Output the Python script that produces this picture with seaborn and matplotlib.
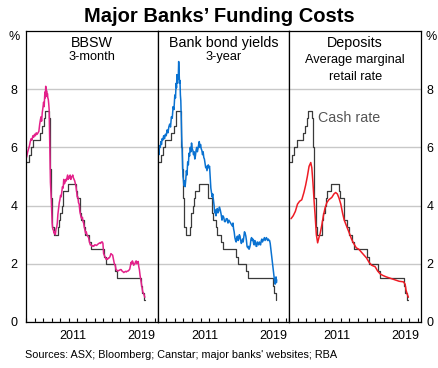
import numpy as np
import pandas as pd
import seaborn as sns
import matplotlib.pyplot as plt

# cash rate (step line, shown in every panel)
cash_t = [2006.0, 2006.35, 2006.6, 2006.85, 2007.6, 2007.85, 2008.1, 2008.17, 2008.7, 2008.77,
          2008.84, 2008.92, 2009.09, 2009.26, 2009.76, 2009.84, 2009.92, 2010.17, 2010.26, 2010.34,
          2010.84, 2011.84, 2011.92, 2012.34, 2012.43, 2012.76, 2012.92, 2013.34, 2013.59, 2015.09,
          2015.34, 2016.34, 2016.59, 2019.42, 2019.51, 2019.76, 2019.85]
cash_rate = [5.5, 5.75, 6.0, 6.25, 6.5, 6.75, 7.0, 7.25, 7.0, 6.0,
             5.25, 4.25, 3.25, 3.0, 3.25, 3.5, 3.75, 4.0, 4.25, 4.5,
             4.75, 4.5, 4.25, 3.75, 3.5, 3.25, 3.0, 2.75, 2.5, 2.25,
             2.0, 1.75, 1.5, 1.25, 1.0, 0.75, 0.75]

# BBSW 3-month
bbsw_t = [2006.0, 2006.1, 2006.2, 2006.3, 2006.4, 2006.5, 2006.6, 2006.7, 2006.8, 2006.9,
          2007.0, 2007.1, 2007.2, 2007.3, 2007.4, 2007.5, 2007.6, 2007.68, 2007.75, 2007.82,
          2007.9, 2007.97, 2008.05, 2008.12, 2008.2, 2008.25, 2008.3, 2008.35, 2008.4, 2008.45,
          2008.5, 2008.55, 2008.6, 2008.65, 2008.7, 2008.78, 2008.85, 2008.95, 2009.05, 2009.12,
          2009.2, 2009.28, 2009.35, 2009.42, 2009.5, 2009.58, 2009.65, 2009.72, 2009.8, 2009.88,
          2009.95, 2010.03, 2010.1, 2010.18, 2010.25, 2010.33, 2010.4, 2010.48, 2010.55, 2010.63,
          2010.7, 2010.78, 2010.85, 2010.93, 2011.0, 2011.08, 2011.15, 2011.23, 2011.3, 2011.38,
          2011.45, 2011.53, 2011.6, 2011.68, 2011.75, 2011.83, 2011.9, 2011.97, 2012.05, 2012.12,
          2012.2, 2012.28, 2012.35, 2012.42, 2012.5, 2012.58, 2012.65, 2012.72, 2012.8, 2012.88,
          2012.95, 2013.03, 2013.1, 2013.2, 2013.3, 2013.4, 2013.5, 2013.6, 2013.7, 2013.8,
          2013.9, 2014.0, 2014.1, 2014.2, 2014.3, 2014.4, 2014.5, 2014.6, 2014.7, 2014.8,
          2014.9, 2014.97, 2015.05, 2015.12, 2015.2, 2015.28, 2015.35, 2015.42, 2015.5, 2015.6,
          2015.7, 2015.8, 2015.9, 2016.0, 2016.1, 2016.2, 2016.3, 2016.4, 2016.5, 2016.6,
          2016.7, 2016.8, 2016.9, 2017.0, 2017.1, 2017.2, 2017.3, 2017.4, 2017.5, 2017.6,
          2017.7, 2017.8, 2017.9, 2018.0, 2018.1, 2018.18, 2018.25, 2018.32, 2018.4, 2018.48,
          2018.55, 2018.62, 2018.7, 2018.78, 2018.85, 2018.92, 2019.0, 2019.08, 2019.15, 2019.22,
          2019.3, 2019.38, 2019.45, 2019.52, 2019.6, 2019.68, 2019.75, 2019.8, 2019.85]
bbsw = [5.6, 5.7, 5.85, 5.95, 6.05, 6.2, 6.3, 6.25, 6.4, 6.35,
        6.45, 6.4, 6.5, 6.45, 6.5, 6.55, 6.8, 6.95, 7.05, 6.9,
        7.2, 7.35, 7.55, 7.4, 7.9, 7.7, 8.1, 7.8, 7.95, 7.75,
        7.85, 7.7, 7.65, 7.5, 7.3, 6.0, 4.8, 4.2, 3.4, 3.2,
        3.15, 3.05, 3.1, 3.0, 3.2, 3.25, 3.4, 3.7, 3.9, 4.1,
        4.2, 4.35, 4.3, 4.5, 4.65, 4.6, 4.9, 4.75, 4.8, 4.9,
        4.85, 4.95, 5.05, 4.9, 5.0, 4.95, 5.05, 4.9, 4.98, 5.0,
        5.05, 4.95, 4.9, 4.85, 4.75, 4.65, 4.5, 4.3, 4.3, 4.1,
        4.05, 3.8, 3.7, 3.6, 3.55, 3.6, 3.45, 3.4, 3.25, 3.15,
        3.05, 3.1, 3.0, 2.95, 2.9, 2.75, 2.65, 2.65, 2.6, 2.62,
        2.6, 2.65, 2.65, 2.63, 2.65, 2.68, 2.7, 2.72, 2.7, 2.75,
        2.75, 2.7, 2.35, 2.3, 2.25, 2.2, 2.15, 2.18, 2.15, 2.2,
        2.2, 2.25, 2.35, 2.32, 2.3, 2.15, 2.0, 1.95, 1.8, 1.78,
        1.75, 1.77, 1.78, 1.8, 1.8, 1.75, 1.73, 1.7, 1.72, 1.74,
        1.72, 1.75, 1.75, 1.78, 1.82, 1.95, 2.05, 2.0, 2.1, 2.05,
        1.95, 1.98, 2.0, 2.08, 2.1, 2.0, 2.05, 2.08, 1.9, 1.8,
        1.6, 1.45, 1.3, 1.2, 1.05, 1.0, 0.95, 0.9, 0.85]

# bank bond yields 3-year
bond_t = [2006.0, 2006.08, 2006.15, 2006.22, 2006.3, 2006.38, 2006.45, 2006.52, 2006.6, 2006.7,
          2006.8, 2006.9, 2007.0, 2007.1, 2007.2, 2007.3, 2007.4, 2007.5, 2007.6, 2007.7,
          2007.8, 2007.9, 2008.0, 2008.08, 2008.15, 2008.2, 2008.25, 2008.3, 2008.35, 2008.4,
          2008.45, 2008.5, 2008.55, 2008.6, 2008.65, 2008.7, 2008.75, 2008.8, 2008.85, 2008.9,
          2008.95, 2009.0, 2009.05, 2009.12, 2009.2, 2009.28, 2009.35, 2009.42, 2009.5, 2009.58,
          2009.65, 2009.72, 2009.8, 2009.88, 2009.95, 2010.03, 2010.1, 2010.18, 2010.25, 2010.33,
          2010.4, 2010.48, 2010.55, 2010.63, 2010.7, 2010.78, 2010.85, 2010.93, 2011.0, 2011.08,
          2011.15, 2011.23, 2011.3, 2011.38, 2011.45, 2011.53, 2011.6, 2011.68, 2011.75, 2011.83,
          2011.9, 2011.97, 2012.05, 2012.12, 2012.2, 2012.28, 2012.35, 2012.42, 2012.5, 2012.58,
          2012.65, 2012.72, 2012.8, 2012.88, 2012.95, 2013.03, 2013.1, 2013.2, 2013.3, 2013.4,
          2013.5, 2013.6, 2013.7, 2013.8, 2013.9, 2014.0, 2014.1, 2014.2, 2014.3, 2014.4,
          2014.5, 2014.6, 2014.7, 2014.78, 2014.85, 2014.92, 2015.0, 2015.08, 2015.15, 2015.22,
          2015.3, 2015.38, 2015.45, 2015.52, 2015.6, 2015.68, 2015.75, 2015.82, 2015.9, 2015.97,
          2016.05, 2016.12, 2016.2, 2016.28, 2016.35, 2016.42, 2016.5, 2016.58, 2016.65, 2016.72,
          2016.8, 2016.88, 2016.95, 2017.02, 2017.1, 2017.18, 2017.25, 2017.32, 2017.4, 2017.48,
          2017.55, 2017.62, 2017.7, 2017.78, 2017.85, 2017.92, 2018.0, 2018.08, 2018.15, 2018.22,
          2018.3, 2018.38, 2018.45, 2018.52, 2018.6, 2018.68, 2018.75, 2018.82, 2018.9, 2018.97,
          2019.05, 2019.12, 2019.2, 2019.28, 2019.35, 2019.42, 2019.5, 2019.55, 2019.6, 2019.65,
          2019.7, 2019.75, 2019.8, 2019.84, 2019.88]
bond = [5.6, 5.85, 5.75, 6.05, 6.0, 6.2, 6.1, 6.3, 6.25, 6.4,
        6.3, 6.45, 6.4, 6.6, 6.5, 6.7, 6.8, 6.7, 7.05, 7.0,
        7.4, 7.3, 7.8, 7.7, 8.2, 8.05, 8.5, 8.2, 8.4, 8.35,
        8.95, 8.6, 8.2, 8.3, 7.8, 7.6, 7.0, 6.4, 6.0, 5.5,
        5.0, 4.9, 4.7, 4.85, 4.65, 4.9, 5.2, 5.05, 5.5, 5.4,
        5.8, 5.7, 6.0, 5.85, 6.15, 5.95, 5.9, 5.75, 5.85, 5.6,
        5.7, 5.9, 6.0, 5.85, 5.95, 6.1, 6.2, 6.0, 6.1, 5.95,
        5.9, 5.75, 5.85, 5.65, 5.6, 5.45, 5.3, 5.35, 5.2, 5.3,
        5.4, 5.3, 5.35, 5.0, 4.6, 4.45, 4.3, 4.4, 4.2, 4.0,
        3.75, 3.85, 3.65, 3.8, 3.9, 3.75, 3.8, 3.95, 3.85, 3.7,
        3.5, 3.65, 3.6, 3.45, 3.45, 3.55, 3.55, 3.4, 3.5, 3.45,
        3.4, 3.35, 3.3, 3.4, 3.2, 3.1, 2.9, 2.8, 2.75, 2.9,
        2.95, 2.8, 2.85, 3.0, 2.95, 2.8, 2.7, 2.75, 2.85, 2.75,
        2.95, 3.1, 3.05, 2.95, 2.8, 2.6, 2.55, 2.6, 2.5, 2.55,
        2.65, 2.85, 2.9, 2.8, 2.85, 2.7, 2.65, 2.8, 2.75, 2.6,
        2.6, 2.75, 2.7, 2.65, 2.75, 2.7, 2.65, 2.8, 2.85, 2.75,
        2.8, 2.85, 2.9, 2.8, 2.85, 2.9, 2.85, 2.8, 2.85, 2.8,
        2.8, 2.7, 2.5, 2.3, 2.1, 1.95, 1.75, 1.6, 1.5, 1.35,
        1.3, 1.5, 1.55, 1.35, 1.45]

# deposits - average marginal retail rate
dep_t = [2006.2, 2006.45, 2006.7, 2006.95, 2007.2, 2007.45, 2007.7, 2007.9, 2008.1, 2008.3,
         2008.5, 2008.62, 2008.75, 2008.9, 2009.0, 2009.15, 2009.3, 2009.45, 2009.6, 2009.8,
         2009.97, 2010.15, 2010.37, 2010.6, 2010.95, 2011.2, 2011.4, 2011.6, 2011.8, 2012.0,
         2012.2, 2012.4, 2012.6, 2012.8, 2013.0, 2013.25, 2013.5, 2013.8, 2014.1, 2014.4,
         2014.7, 2015.0, 2015.3, 2015.6, 2016.0, 2016.3, 2016.6, 2016.9, 2017.3, 2017.8,
         2018.3, 2018.8, 2019.3, 2019.5, 2019.6, 2019.75, 2019.88]
dep = [3.55, 3.65, 3.8, 4.05, 4.15, 4.2, 4.45, 4.7, 5.0, 5.35,
       5.48, 5.3, 4.8, 4.1, 3.7, 3.0, 2.72, 2.9, 3.05, 3.35,
       3.65, 3.9, 4.1, 4.2, 4.28, 4.4, 4.45, 4.4, 4.25, 4.05,
       3.75, 3.5, 3.35, 3.2, 3.05, 2.85, 2.7, 2.55, 2.5, 2.4,
       2.3, 2.2, 2.05, 1.95, 1.9, 1.75, 1.65, 1.6, 1.55, 1.5,
       1.45, 1.4, 1.38, 1.3, 1.1, 0.95, 0.85]

panel_titles = [["BBSW", "3-month"], ["Bank bond yields", "3-year"],
                ["Deposits", "Average marginal", "retail rate"]]
series = [(bbsw_t, bbsw, "#e3218a"), (bond_t, bond, "#0a72d1"), (dep_t, dep, "#ee1c25")]
year_labels = ["2011", "2019"]

sns.set_style("ticks")
plt.rcParams['font.family'] = ['Liberation Sans', 'DejaVu Sans']
plt.rcParams['text.color'] = 'black'
plt.rcParams['xtick.color'] = 'black'
plt.rcParams['ytick.color'] = 'black'
plt.rcParams['axes.edgecolor'] = 'black'

fig, axes = plt.subplots(1, 3, figsize=(4.39, 3.68), dpi=100, sharey=True)
plt.subplots_adjust(left=0.0592, right=0.959, bottom=0.125, top=0.9158, wspace=0)

for i, ax in enumerate(axes):
    ax.grid(axis='y', color='#c8c8c8', lw=1)
    ax.set_axisbelow(True)
    sns.lineplot(x=cash_t, y=cash_rate, drawstyle='steps-post', color='#3a3a3a', lw=0.9,
                 ax=ax, estimator=None)
    t, v, c = series[i]
    sns.lineplot(x=t, y=v, color=c, lw=1.1, ax=ax, estimator=None, sort=False)

    ax.set_xlim(2006, 2021.35)
    ax.set_ylim(0, 10)
    ax.set_yticks([0, 2, 4, 6, 8])
    ax.set_xticks([2011.5, 2019.5])
    ax.set_xticklabels(year_labels)
    ax.set_xticks(np.arange(2006, 2022), minor=True)
    ax.tick_params(axis='x', which='major', length=0, labelsize=9, pad=6)
    ax.tick_params(axis='x', which='minor', direction='in', length=3, width=0.8,
                   color='black', bottom=True, top=False)
    ax.tick_params(axis='y', which='both', length=0, labelsize=9)
    for s in ax.spines.values():
        s.set_visible(True)
        s.set_color('black')
        s.set_linewidth(0.9)

    ys = [0.959, 0.909] if i < 2 else [0.957, 0.9, 0.843]
    for j, txt in enumerate(panel_titles[i]):
        ax.text(0.5, ys[j], txt, transform=ax.transAxes,
                ha='center', va='center', fontsize=10.3 if j == 0 else 9.2)

axes[0].tick_params(axis='y', labelleft=True, pad=6)
axes[1].tick_params(axis='y', labelleft=False)
axes[2].tick_params(axis='y', labelleft=False, labelright=True, pad=4)
axes[0].text(-0.09, 0.98, "%", transform=axes[0].transAxes, ha='center', va='center', fontsize=9)
axes[2].text(1.075, 0.98, "%", transform=axes[2].transAxes, ha='center', va='center', fontsize=9)

axes[2].text(2009.3, 7.0, "Cash rate", color='#555555', fontsize=10.3, va='center', ha='left')

fig.text(0.5, 0.954, "Major Banks\u2019 Funding Costs", ha='center', va='center',
         fontsize=14.5, fontweight='bold')
fig.text(0.057, 0.035, "Sources: ASX; Bloomberg; Canstar; major banks' websites; RBA",
         ha='left', va='center', fontsize=7.8)

plt.savefig("out.png", dpi=100)
